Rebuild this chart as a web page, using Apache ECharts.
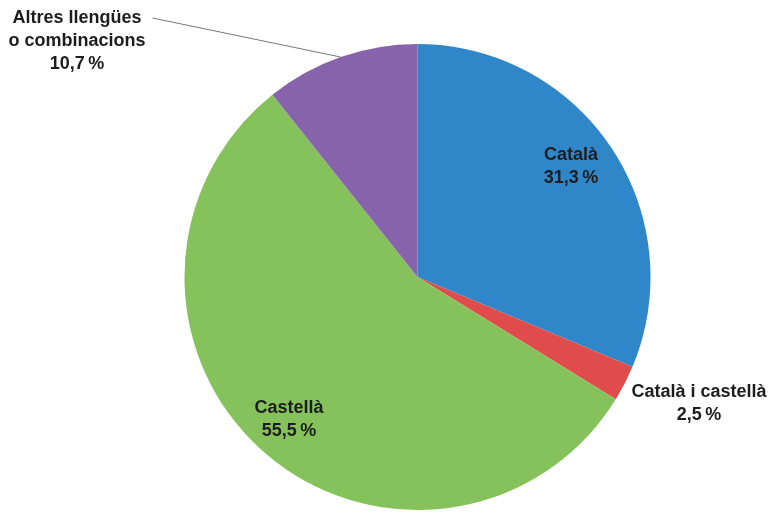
<!DOCTYPE html>
<html><head><meta charset="utf-8">
<script src="https://cdn.jsdelivr.net/npm/echarts@6/dist/echarts.min.js"></script>
<style>html,body{margin:0;padding:0;background:#fff}#c{width:773px;height:512px}</style>
</head><body><div id="c"></div>
<script>
const categories = ['Català', 'Català i castellà', 'Castellà', 'Altres llengües\no combinacions'];
const values = [31.3, 2.5, 55.5, 10.7];
const colors = ['#2f87c9', '#e04c4c', '#85c25c', '#8763ab'];
const labelPos = [[571, 167], [699, 404], [289, 420], [80.5, 18]];

const chart = echarts.init(document.getElementById('c'));
chart.setOption({
  animation: false,
  series: [{
    type: 'pie',
    center: [417.5, 277],
    radius: 233,
    startAngle: 90,
    clockwise: true,
    data: categories.map((n, i) => ({
      name: n, value: values[i],
      itemStyle: { color: colors[i] },
      labelLine: { show: i === 3 },
      label: i === 3 ? { padding: [0, 7, 0, 0] } : {}
    })),
    itemStyle: { borderWidth: 0 },
    label: {
      show: true,
      position: 'outside',
      overflow: 'none',
      formatter: p => (p.dataIndex === 3 ? '\n\n' : '') + p.name + '\n' + p.value.toFixed(1).replace('.', ',') + '\u2009%',
      fontFamily: 'Liberation Sans, Arial, sans-serif',
      fontWeight: 'bold',
      fontSize: 18,
      lineHeight: 23,
      color: '#1d1d1d',
      align: 'center'
    },
    labelLine: { lineStyle: { color: '#777', width: 1 }, length: 10, length2: 0 },
    labelLayout: p => ({ x: labelPos[p.dataIndex][0], y: labelPos[p.dataIndex][1], align: 'center', verticalAlign: 'middle' })
  }]
});
</script></body></html>
